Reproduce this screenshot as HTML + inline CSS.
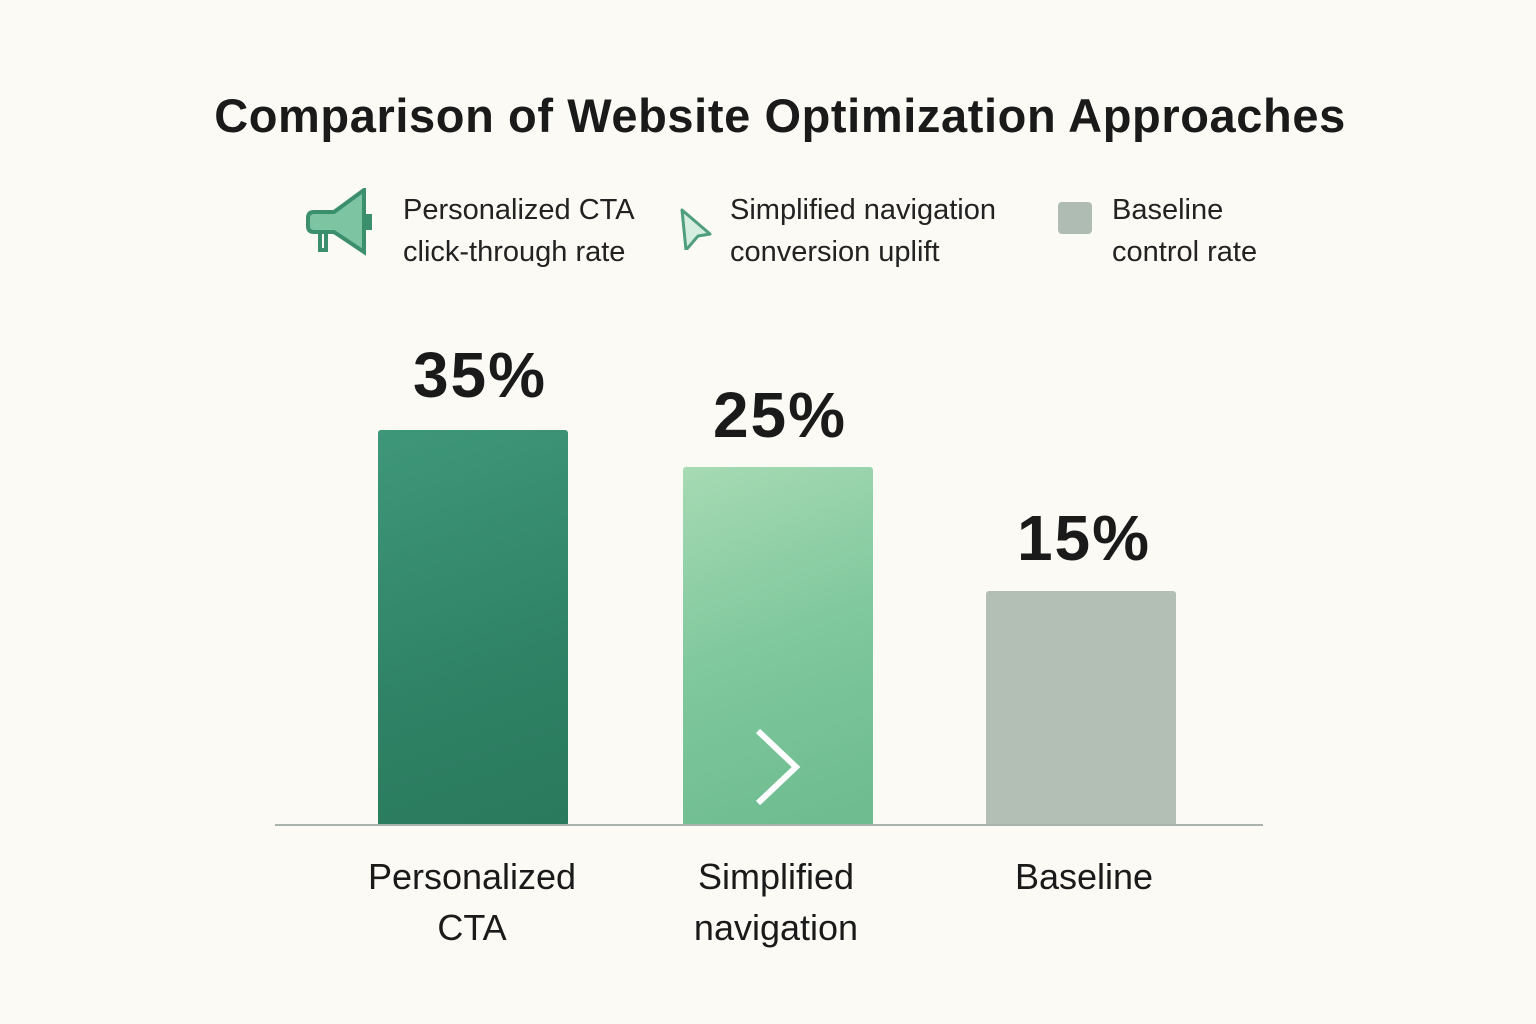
<!DOCTYPE html>
<html><head><style>
body{margin:0;width:1536px;height:1024px;background:#fbfaf5;font-family:"Liberation Sans",sans-serif;position:relative;overflow:hidden;color:#1a1a1a}
.a{position:absolute}
.t{left:0;width:1560px;text-align:center;top:88px;font-size:47px;font-weight:bold;letter-spacing:0.6px}
.lg{font-size:29px;line-height:42px;color:#222}
.v{font-size:64px;font-weight:bold;text-align:center;width:240px;letter-spacing:2px}
.c{font-size:36px;text-align:center;line-height:51px;width:300px}
</style></head><body>
<div class="a t">Comparison of Website Optimization Approaches</div>
<svg class="a" style="left:300px;top:188px" width="80" height="72"><path d="M14 24h20l30-22v62L34 44H14q-6 0-6-6V30q0-6 6-6z" fill="#7cc4a2" stroke="#3b8f6d" stroke-width="4"/><rect x="64" y="26" width="8" height="16" fill="#3b8f6d"/><path d="M20 44v18h6V44" fill="none" stroke="#3b8f6d" stroke-width="4"/></svg>
<div class="a lg" style="left:403px;top:189px">Personalized CTA<br>click-through rate</div>
<svg class="a" style="left:676px;top:206px" width="40" height="44"><path d="M6 4l28 24-12 2-12 14z" fill="#d5eee0" stroke="#4f9e7e" stroke-width="3" stroke-linejoin="round"/></svg>
<div class="a lg" style="left:730px;top:189px">Simplified navigation<br>conversion uplift</div>
<div class="a" style="left:1058px;top:202px;width:34px;height:32px;background:#aebcb4;border-radius:4px"></div>
<div class="a lg" style="left:1112px;top:189px">Baseline<br>control rate</div>
<div class="a" style="left:378px;top:430px;width:190px;height:396px;background:linear-gradient(160deg,#3f977a,#2f8265 60%,#2a7a5d);border-radius:3px"></div>
<div class="a" style="left:683px;top:467px;width:190px;height:359px;background:linear-gradient(160deg,#a6dab3,#7fc79d 50%,#6dbb8f);border-radius:3px"></div>
<svg class="a" style="left:748px;top:725px" width="60" height="84"><path d="M10 6l38 36-38 36" fill="none" stroke="#fff" stroke-width="6"/></svg>
<div class="a" style="left:986px;top:591px;width:190px;height:235px;background:#b3beb5;border-radius:3px"></div>
<div class="a" style="left:275px;top:824px;width:988px;height:2px;background:#aab3ad"></div>
<div class="a v" style="left:360px;top:338px">35%</div>
<div class="a v" style="left:660px;top:378px">25%</div>
<div class="a v" style="left:964px;top:501px">15%</div>
<div class="a c" style="left:322px;top:851px">Personalized<br>CTA</div>
<div class="a c" style="left:626px;top:851px">Simplified<br>navigation</div>
<div class="a c" style="left:934px;top:851px">Baseline</div>
</body></html>
